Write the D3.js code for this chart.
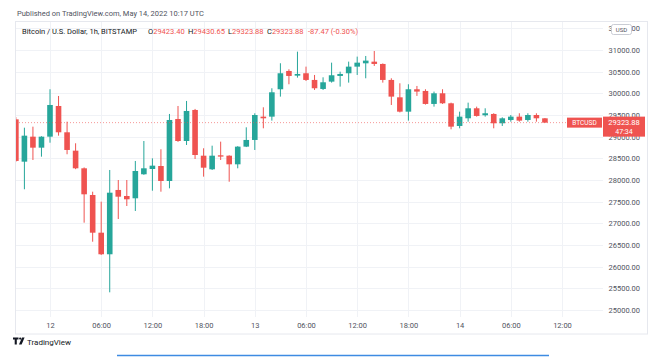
<!DOCTYPE html>
<html><head><meta charset="utf-8">
<script src="https://cdn.jsdelivr.net/npm/d3@7"></script>
<style>
html,body{margin:0;padding:0;background:#fff;}
svg{display:block;font-family:Roboto,"Liberation Sans",sans-serif;}
</style></head><body>
<svg id="c" width="664" height="358"></svg>
<script>
// ---- data (BTC/USD, 1h, Bitstamp) ----
const firstCandle = "2022-05-11T20:00:00Z";
const lastCandle  = "2022-05-14T10:00:00Z";
const openP  = [29400,28423,29000,28746,29000,29708,29101,28677,28270,27654,26784,26286,27770,27631,27578,28132,28254,28323,27977,29408,28900,29616,28561,28247,28570,28561,28362,28770,28924,29462,29462,30094,30516,30408,30463,30309,30101,30270,30401,30463,30616,30693,30731,30678,30309,29908,29577,30094,30055,29755,30001,29770,29247,29424,29655,29494,29524,29309,29385,29462,29385,29500,29423.40];
const highP  = [29450,29207,29231,29010,30094,29939,29346,28847,28290,27730,27500,28231,28000,28000,28439,28900,28500,28709,29524,29708,29824,29640,28732,28792,28885,28570,28780,29216,29540,29678,30117,30694,30555,30962,30616,30424,30370,30708,30500,30732,30847,30862,30977,30690,30347,30232,30209,30170,30094,30040,30094,29785,29577,29785,29693,29655,29540,29447,29500,29540,29540,29540,29430.65];
const lowP   = [28420,27786,28462,28538,28861,29023,28594,28250,27015,26576,26270,25408,27100,27400,27285,28120,27753,27730,27808,28880,28808,28485,28077,28231,28462,27960,28270,28760,28693,29193,29370,29924,30209,30362,30285,30078,30078,30247,30155,30247,30424,30347,30632,30247,29731,29560,29370,29940,29740,29693,29755,29170,29193,29346,29462,29462,29193,29247,29346,29346,29346,29346,29323.88];
const closeP = [28440,29023,28746,29000,29731,29101,28693,28270,27670,26784,26286,27707,27615,27555,28208,28270,28331,27977,29385,28900,29593,28577,28284,28561,28540,28362,28770,28924,29500,29424,30024,30463,30401,30447,30309,30117,30255,30417,30447,30616,30708,30755,30678,30309,29924,29577,30094,30040,29755,30001,29770,29231,29462,29655,29478,29540,29309,29424,29462,29370,29500,29424,29323.88];
const priceTicks = [25000,25500,26000,26500,27000,27500,28000,28500,29000,29500,30000,30500,31000,31500];
const timeTickStart = "2022-05-12T00:00:00Z";
const timeTickEnd = "2022-05-14T12:00:00Z";
const lastPrice = 29323.88;
const countdown = "47:34";
const symbolName = "BTCUSD";
const titleText = "Bitcoin / U.S. Dollar, 1h, BITSTAMP";
const legendItems = [["O","29423.40"],["H","29430.65"],["L","29323.88"],["C","29323.88"]];
const changeText = "-87.47 (-0.30%)";
const publishedText = "Published on TradingView.com, May 14, 2022 10:17 UTC";

// ---- layout ----
const UP = "#26a69a", DOWN = "#ef5350";
const pane = {left:16, right:603, top:22, bottom:317};
const svg = d3.select("#c");

const times = d3.utcHour.range(new Date(firstCandle), d3.utcHour.offset(new Date(lastCandle),1));
const candles = times.map((t,i)=>({t, o:openP[i], h:highP[i], l:lowP[i], c:closeP[i]}));

const x = d3.scaleUtc().domain([new Date(timeTickStart), new Date(timeTickEnd)]).range([50, 562]);
const y = d3.scaleLinear().domain([25000, 31000]).range([310, 50]);
const timeTicks = d3.utcHour.every(6).range(new Date(timeTickStart), d3.utcHour.offset(new Date(timeTickEnd),1));

// outer frame
svg.append("rect").attr("x",15.5).attr("y",21.5).attr("width",632).attr("height",312.5)
  .attr("fill","none").attr("stroke","#e6e8ee");

svg.append("defs").append("clipPath").attr("id","pc").append("rect")
  .attr("x",pane.left).attr("y",pane.top).attr("width",pane.right-pane.left).attr("height",pane.bottom-pane.top);

// grid
const grid = svg.append("g").attr("clip-path","url(#pc)");
grid.selectAll(".hg").data(priceTicks).join("line")
  .attr("x1",pane.left).attr("x2",pane.right)
  .attr("y1",d=>Math.round(y(d))+0.5).attr("y2",d=>Math.round(y(d))+0.5)
  .attr("stroke","#f0f2f6");
svg.selectAll(".vg").data(timeTicks).join("line")
  .attr("x1",d=>Math.round(x(d))+0.5).attr("x2",d=>Math.round(x(d))+0.5)
  .attr("y1",pane.top).attr("y2",pane.bottom)
  .attr("stroke","#f0f2f6");

// candles
const cg = svg.append("g").attr("clip-path","url(#pc)");
const bw = 5.6;
const cs = cg.selectAll("g.c").data(candles).join("g");
cs.append("line")
  .attr("x1",d=>x(d.t)).attr("x2",d=>x(d.t))
  .attr("y1",d=>y(d.h)).attr("y2",d=>y(d.l))
  .attr("stroke",d=>d.c>=d.o?UP:DOWN).attr("stroke-width",1);
cs.append("rect")
  .attr("x",d=>x(d.t)-bw/2).attr("width",bw)
  .attr("y",d=>y(Math.max(d.o,d.c)))
  .attr("height",d=>Math.max(1,Math.abs(y(d.o)-y(d.c))))
  .attr("fill",d=>d.c>=d.o?UP:DOWN);

// last price line
svg.append("line").attr("x1",pane.left).attr("x2",pane.right)
  .attr("y1",y(lastPrice)).attr("y2",y(lastPrice))
  .attr("stroke",DOWN).attr("stroke-opacity",0.6).attr("stroke-dasharray","1,2");

// price axis
const yAxis = d3.axisRight(y).tickValues(priceTicks).tickSize(0).tickFormat(d3.format(".2f"));
const ya = svg.append("g").attr("transform",`translate(${pane.right},0)`).call(yAxis);
ya.select(".domain").remove();
ya.selectAll("text").attr("x",37).attr("text-anchor","end")
  .attr("fill","#50535e").style("font-size","7.5px").style("font-family","Roboto,'Liberation Sans',sans-serif");

// time axis
const fmt = d => d.getUTCHours()===0 ? d3.utcFormat("%-d")(d) : d3.utcFormat("%H:%M")(d);
const xAxis = d3.axisBottom(x).tickValues(timeTicks).tickSize(0).tickFormat(fmt);
const xa = svg.append("g").attr("transform",`translate(0,${pane.bottom})`).call(xAxis);
xa.select(".domain").remove();
xa.selectAll("text").attr("y",6).attr("fill","#50535e")
  .style("font-size","7.5px").style("font-family","Roboto,'Liberation Sans',sans-serif");

// USD badge
svg.append("rect").attr("x",611.5).attr("y",24.5).attr("width",20).attr("height",10).attr("rx",2)
  .attr("fill","#fff").attr("stroke","#c9ccd4");
svg.append("text").attr("x",621.5).attr("y",32).attr("text-anchor","middle")
  .attr("fill","#50535e").style("font-size","6px").text("USD");

// price labels
const ly = y(lastPrice);
svg.append("rect").attr("x",567).attr("y",ly-5).attr("width",35).attr("height",10).attr("fill",DOWN);
svg.append("text").attr("x",584.5).attr("y",ly+2.5).attr("text-anchor","middle")
  .attr("fill","#fff").style("font-size","6.5px").text(symbolName);
svg.append("rect").attr("x",603).attr("y",ly-6).attr("width",42).attr("height",20).attr("fill",DOWN);
svg.append("text").attr("x",624).attr("y",ly+2).attr("text-anchor","middle")
  .attr("fill","#fff").style("font-size","7.5px").text(d3.format(".2f")(lastPrice));
svg.append("text").attr("x",624).attr("y",ly+11).attr("text-anchor","middle")
  .attr("fill","#fff").style("font-size","7px").text(countdown);

// header
svg.append("text").attr("x",17).attr("y",16).attr("fill","#50535e")
  .style("font-size","7.5px").text(publishedText);
svg.append("text").attr("x",22).attr("y",34).attr("fill","#131722")
  .style("font-size","7.5px").text(titleText);
const legX = [148,188,228,267];
legendItems.forEach((it,i)=>{
  const t = svg.append("text").attr("x",legX[i]).attr("y",34).style("font-size","7.5px");
  t.append("tspan").attr("fill","#131722").text(it[0]);
  t.append("tspan").attr("fill",DOWN).text(it[1]);
});
svg.append("text").attr("x",308).attr("y",34).attr("fill",DOWN).style("font-size","7.5px").text(changeText);

// footer logo
const lg = svg.append("g").attr("fill","#131722");
lg.append("path").attr("d","M13,337.5h5.5v2h-1.7v5h-2.1v-5h-1.7z");
lg.append("circle").attr("cx",20.2).attr("cy",338.6).attr("r",1.1);
lg.append("path").attr("d","M22,337.5h2.6l-3,7h-2.6z");
svg.append("text").attr("x",27).attr("y",344.5).attr("fill","#131722")
  .style("font-size","8px").text("TradingView");
svg.append("line").attr("x1",117).attr("x2",549).attr("y1",355.5).attr("y2",355.5)
  .attr("stroke","#3d8be2").attr("stroke-width",1.5);
</script>
</body></html>
